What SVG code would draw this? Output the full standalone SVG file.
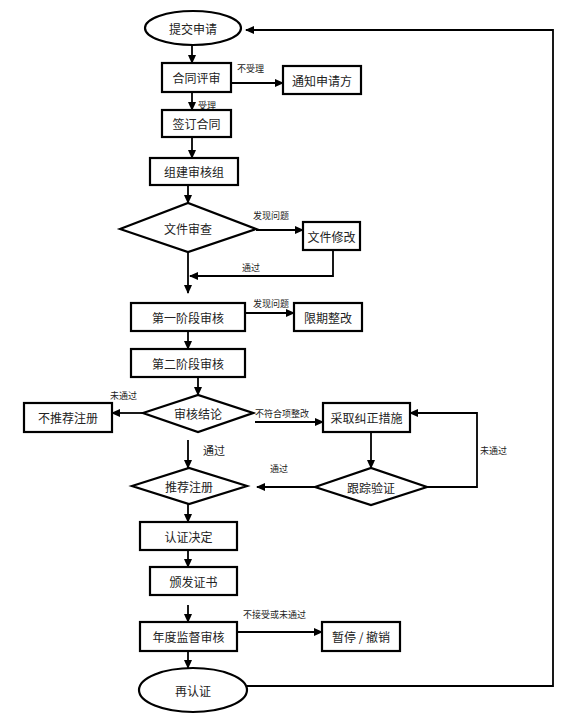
<svg xmlns="http://www.w3.org/2000/svg" width="570" height="727" viewBox="0 0 570 727">
<defs>
<marker id="ah" markerUnits="userSpaceOnUse" markerWidth="9" markerHeight="8" refX="8" refY="4" orient="auto">
<path d="M0,0 L9,4 L0,8 Z" fill="#000"/>
</marker>
<style>
.n{fill:#fff;stroke:#000;stroke-width:2.2}
.t{font-family:"Noto Sans CJK SC","Noto Sans",sans-serif;font-size:12px;fill:#222;text-anchor:middle;dominant-baseline:central}
.c{fill:none;stroke:#000;stroke-width:1.8}
.a{marker-end:url(#ah)}
.l{font-family:"Noto Sans CJK SC","Noto Sans",sans-serif;font-size:9px;fill:#222}
.lb{font-size:11px}
</style>
</defs>
<rect width="570" height="727" fill="#fff"/>
<g id="connectors">
<path class="c a" d="M192,45 V63"/>
<path class="c a" d="M231,83 H283"/>
<path class="c a" d="M192,92 V110"/>
<path class="c a" d="M192,137 V158"/>
<path class="c a" d="M188,185 V203"/>
<path class="c a" d="M256,230 H303"/>
<path class="c a" d="M333,250 V276 H190"/>
<path class="c a" d="M188,252 V293"/>
<path class="c a" d="M245,313 H294"/>
<path class="c a" d="M188,331 V349"/>
<path class="c a" d="M198,377 V395"/>
<path class="c a" d="M143,413 H112"/>
<path class="c a" d="M255,422 H323"/>
<path class="c a" d="M188,440 V468"/>
<path class="c a" d="M371,432 V468"/>
<path class="c a" d="M315,487 H257"/>
<path class="c a" d="M427,487 H477 V413 H410"/>
<path class="c a" d="M188,504 V522"/>
<path class="c a" d="M188,550 V567"/>
<path class="c a" d="M188,605 V622"/>
<path class="c a" d="M237,632 H322"/>
<path class="c a" d="M188,651 V668"/>
<path class="c a" d="M247,686 H553 V30 H246"/>
<text class="l" x="237" y="72">不受理</text>
<text class="l" x="198" y="109">受理</text>
<text class="l" x="253" y="219">发现问题</text>
<text class="l" x="242" y="271">通过</text>
<text class="l" x="253" y="307">发现问题</text>
<text class="l" x="110" y="399">未通过</text>
<text class="l" x="255" y="417">不符合项整改</text>
<text class="l lb" x="203" y="455">通过</text>
<text class="l" x="270" y="472">通过</text>
<text class="l" x="480" y="454">未通过</text>
<text class="l" x="243" y="618">不接受或未通过</text>
</g>
<g id="n1"><ellipse class="n" cx="193" cy="28" rx="48" ry="17"/><text class="t" x="193" y="28">提交申请</text></g>
<g id="n2"><rect class="n" x="162" y="63" width="69" height="29"/><text class="t" x="196.5" y="77.5">合同评审</text></g>
<g id="n3"><rect class="n" x="283" y="66" width="78" height="28"/><text class="t" x="322" y="80">通知申请方</text></g>
<g id="n4"><rect class="n" x="162" y="110" width="69" height="27"/><text class="t" x="196.5" y="123.5">签订合同</text></g>
<g id="n5"><rect class="n" x="150" y="158" width="88" height="27"/><text class="t" x="194" y="171.5">组建审核组</text></g>
<g id="n6"><polygon class="n" points="120,229 188,203 256,229 188,252"/><text class="t" x="188" y="228">文件审查</text></g>
<g id="n7"><rect class="n" x="303" y="222" width="57" height="28"/><text class="t" x="331.5" y="236">文件修改</text></g>
<g id="n8"><rect class="n" x="131" y="303" width="114" height="28"/><text class="t" x="188" y="317">第一阶段审核</text></g>
<g id="n9"><rect class="n" x="294" y="303" width="68" height="28"/><text class="t" x="328" y="317">限期整改</text></g>
<g id="n10"><rect class="n" x="131" y="349" width="114" height="28"/><text class="t" x="188" y="363">第二阶段审核</text></g>
<g id="n11"><polygon class="n" points="143,413 198,395 253,413 198,432"/><text class="t" x="198" y="413">审核结论</text></g>
<g id="n12"><rect class="n" x="24" y="403" width="88" height="29"/><text class="t" x="68" y="417.5">不推荐注册</text></g>
<g id="n13"><rect class="n" x="323" y="403" width="87" height="29"/><text class="t" x="366.5" y="417.5">采取纠正措施</text></g>
<g id="n14"><polygon class="n" points="132,486 189,468 247,486 189,504"/><text class="t" x="189" y="486">推荐注册</text></g>
<g id="n15"><polygon class="n" points="315,487 371,468 427,487 371,505"/><text class="t" x="371" y="487">跟踪验证</text></g>
<g id="n16"><rect class="n" x="140" y="522" width="97" height="28"/><text class="t" x="188.5" y="536">认证决定</text></g>
<g id="n17"><rect class="n" x="150" y="567" width="87" height="28"/><text class="t" x="193.5" y="581">颁发证书</text></g>
<g id="n18"><rect class="n" x="140" y="622" width="97" height="29"/><text class="t" x="188.5" y="636.5">年度监督审核</text></g>
<g id="n19"><rect class="n" x="322" y="622" width="78" height="29"/><text class="t" x="361" y="636.5">暂停 / 撤销</text></g>
<g id="n20"><ellipse class="n" cx="193" cy="690" rx="54" ry="22"/><text class="t" x="193" y="690">再认证</text></g>
</svg>
